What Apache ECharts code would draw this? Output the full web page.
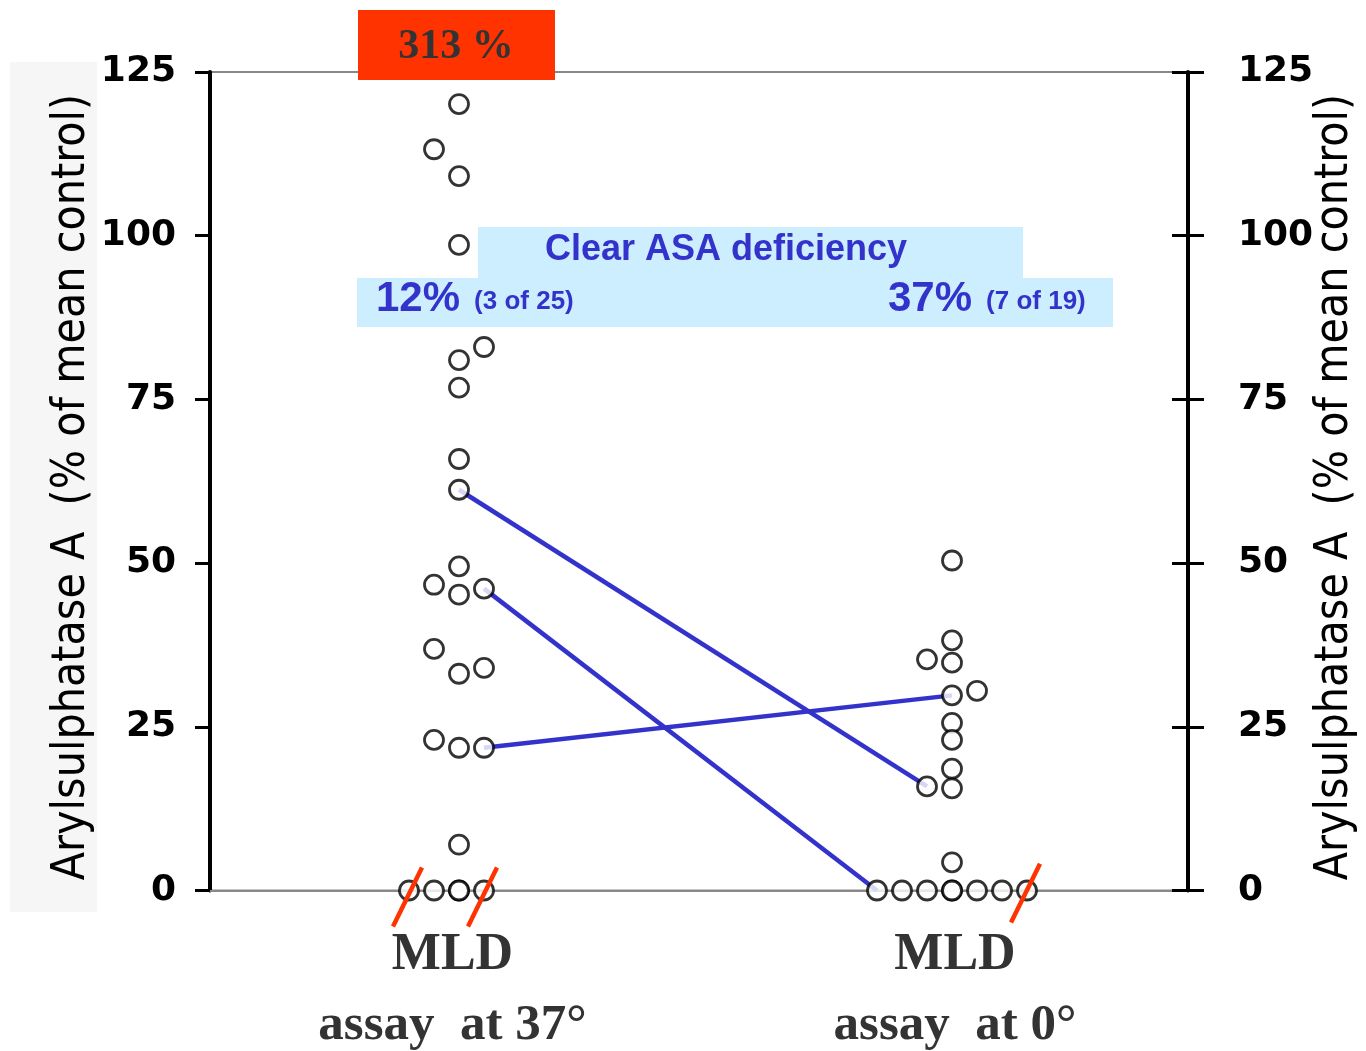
<!DOCTYPE html>
<html lang="en">
<head>
    <meta charset="UTF-8">
    <title>ASA in MLD</title>
    <script src="https://cdn.jsdelivr.net/npm/echarts@6/dist/echarts.min.js"></script>
    <style>
        html, body { margin: 0; padding: 0; background: #fff; }
    </style>
</head>
<body>
<div id="dom" style="width: 1366px;height: 1051px"></div>
<script>
    // values (% of mean control)
    var groupNames = ['MLD\nassay  at 37°', 'MLD\nassay  at 0°'];
    var values37 = [120.1, 113.2, 109.1, 98.6, 83.0, 81.0, 76.8, 65.9, 61.2, 49.5, 46.7, 45.2, 46.1,
        36.9, 33.1, 34.0, 23.0, 21.8, 21.8, 7.0, 0, 0, 0, 0, 0];
    var values0 = [50.4, 38.2, 35.3, 34.8, 30.5, 29.8, 25.6, 23.0, 18.6, 15.9, 15.6, 4.3,
        0, 0, 0, 0, 0, 0, 0, 0];
    // same patient measured both ways
    var paired37 = [61.2, 46.1, 21.8];
    var paired0 = [15.9, 0, 29.8];
    var offscaleLabel = '313 %';
    var yTicks = [0, 25, 50, 75, 100, 125];

    // dot plot columns (side-by-side offsets of the circles)
    var cols37 = [0, -1, 0, 0, 1, 0, 0, 0, 0, 0, -1, 0, 1, -1, 0, 1, -1, 0, 1, 0, -2, -1, 0, 0, 1];
    var cols0 = [0, 0, -1, 0, 1, 0, 0, 0, 0, -1, 0, 0, -3, -2, -1, 0, 0, 1, 2, 3];
    var pairedCols = [[0, -1], [1, -3], [1, 0]];
    var breakCols = [[0, -2], [0, 1], [1, 3]];
    var groupX = [9.96, 29.68];
    var labelX = [9.7, 29.8];

    var blue = '#3333cc';
    var dom = document.getElementById("dom");
    var myCharts = echarts.init(dom);

    function dots(vals, cols, g) {
        return vals.map(function (v, i) { return [groupX[g] + cols[i], v]; });
    }

    var series = [];
    for (var i = 0; i < paired37.length; i++) {
        series.push({
            type: 'line',
            symbol: 'none',
            lineStyle: {color: blue, width: 4.5},
            z: 2,
            data: [[groupX[0] + pairedCols[i][0], paired37[i]], [groupX[1] + pairedCols[i][1], paired0[i]]]
        });
    }
    var dotStyle = {color: '#fff', borderColor: '#000', borderWidth: 2.8};
    series.push({type: 'scatter', symbolSize: 19, itemStyle: dotStyle, z: 3, data: dots(values37, cols37, 0)});
    series.push({type: 'scatter', symbolSize: 19, itemStyle: dotStyle, z: 3, data: dots(values0, cols0, 1)});
    // axis break slashes
    breakCols.forEach(function (b) {
        var x = groupX[b[0]] + b[1];
        series.push({
            type: 'line',
            symbol: 'none',
            clip: false,
            lineStyle: {color: '#ff3300', width: 4.5},
            z: 4,
            data: [[x - 0.64, b[0] ? -4.9 : -5.5], [x + 0.52, b[0] ? 4.1 : 3.5]]
        });
    });

    var labelFont = {fontFamily: 'DejaVu Sans', fontWeight: 'bold', fontSize: 36, color: '#000', padding: [10, 0, 0, 0]};
    var nameFont = '46px "Liberation Sans Narrow", "DejaVu Sans Condensed", sans-serif';

    var option = {
        animation: false,
        grid: {left: 210, right: 178, top: 72, bottom: 160, show: true, borderColor: '#888', borderWidth: 2},
        xAxis: {
            type: 'value', min: 0, max: 39.12,
            splitLine: {show: false},
            axisTick: {show: false},
            axisLine: {show: true, lineStyle: {color: '#888', width: 2}},
            axisLabel: {
                customValues: labelX,
                margin: 30,
                formatter: function (v) {
                    var g = Math.abs(v - labelX[0]) < 0.5 ? 0 : 1;
                    var parts = groupNames[g].split('\n');
                    return '{a|' + parts[0] + '}\n{b|' + parts[1] + '}';
                },
                rich: {
                    a: {fontFamily: 'Liberation Serif', fontWeight: 'bold', fontSize: 52, color: '#333', lineHeight: 70},
                    b: {fontFamily: 'Liberation Serif', fontWeight: 'bold', fontSize: 51, color: '#333', lineHeight: 70}
                }
            }
        },
        yAxis: [
            {
                type: 'value', min: 0, max: 125, interval: 25, position: 'left',
                splitLine: {show: false},
                axisLine: {show: true, lineStyle: {color: '#000', width: 4}},
                axisTick: {show: true, length: 15, lineStyle: {color: '#000', width: 3}},
                axisLabel: Object.assign({margin: 34, customValues: yTicks}, labelFont)
            },
            {
                type: 'value', min: 0, max: 125, interval: 25, position: 'right',
                splitLine: {show: false},
                axisLine: {show: true, lineStyle: {color: '#000', width: 4}},
                axisTick: {show: true, length: 16, lineStyle: {color: '#000', width: 3}},
                axisLabel: Object.assign({margin: 50, customValues: yTicks}, labelFont)
            },
            {
                type: 'value', min: 0, max: 125, interval: 25, position: 'right',
                splitLine: {show: false},
                axisLine: {show: false},
                axisTick: {show: true, inside: true, length: 16, lineStyle: {color: '#000', width: 3}},
                axisLabel: {show: false}
            }
        ],
        series: series,
        graphic: [
            {type: 'rect', z: 0, shape: {x: 10, y: 62, width: 87, height: 850}, style: {fill: '#f6f6f6'}},
            {type: 'text', z: 1, x: 72, y: 487, rotation: Math.PI / 2,
                style: {text: 'Arylsulphatase A  (% of mean control)', font: nameFont,
                    fill: '#000', align: 'center', verticalAlign: 'middle'}},
            {type: 'text', z: 1, x: 1335, y: 487, rotation: Math.PI / 2,
                style: {text: 'Arylsulphatase A  (% of mean control)', font: nameFont,
                    fill: '#000', align: 'center', verticalAlign: 'middle'}},
            {type: 'rect', z: 0, shape: {x: 478, y: 227, width: 545, height: 52}, style: {fill: '#cceeff'}},
            {type: 'rect', z: 0, shape: {x: 357, y: 278, width: 756, height: 49}, style: {fill: '#cceeff'}},
            {type: 'text', z: 1, x: 726, y: 250,
                style: {text: 'Clear ASA deficiency', font: 'bold 36px "Liberation Sans", Arial, sans-serif',
                    fill: blue, align: 'center', verticalAlign: 'middle'}},
            {type: 'text', z: 1, x: 376, y: 299,
                style: {text: '{p|12%}{q|(3 of 25)}', align: 'left', verticalAlign: 'middle',
                    rich: {p: {font: 'bold 42px "Liberation Sans", Arial', fill: blue, padding: [0, 14, 0, 0]},
                        q: {font: 'bold 26px "Liberation Sans", Arial', fill: blue, padding: [6, 0, 0, 0]}}}},
            {type: 'text', z: 1, x: 888, y: 299,
                style: {text: '{p|37%}{q|(7 of 19)}', align: 'left', verticalAlign: 'middle',
                    rich: {p: {font: 'bold 42px "Liberation Sans", Arial', fill: blue, padding: [0, 14, 0, 0]},
                        q: {font: 'bold 26px "Liberation Sans", Arial', fill: blue, padding: [6, 0, 0, 0]}}}},
            {type: 'rect', z: 10, shape: {x: 358, y: 10, width: 197, height: 70}, style: {fill: '#ff3300'}},
            {type: 'text', z: 11, x: 456, y: 47,
                style: {text: offscaleLabel, font: 'bold 42px "Liberation Serif", serif',
                    fill: '#333', align: 'center', verticalAlign: 'middle'}}
        ]
    };
    myCharts.setOption(option);
</script>
</body>
</html>
